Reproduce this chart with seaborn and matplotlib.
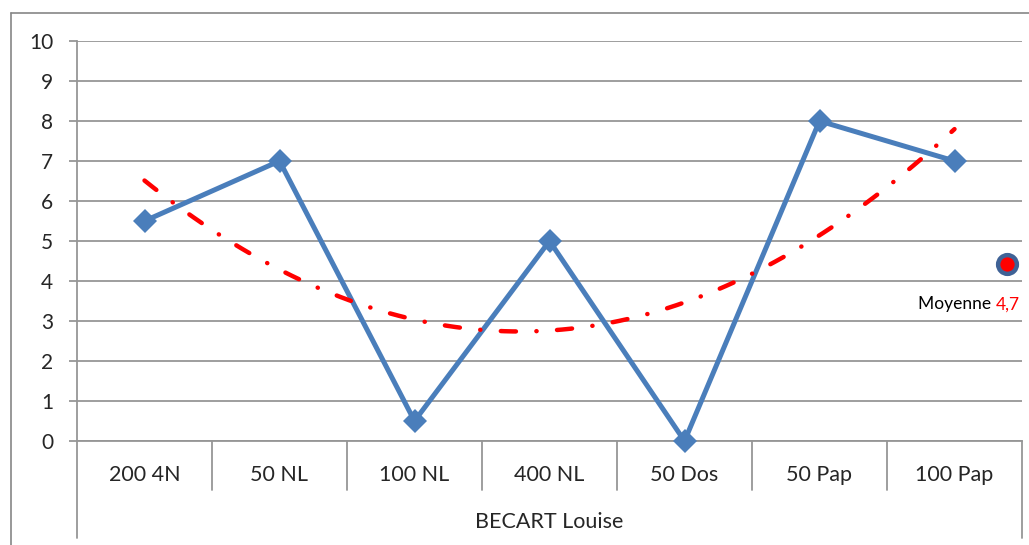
import numpy as np
import pandas as pd
import matplotlib
matplotlib.use("Agg")
import matplotlib.pyplot as plt
from matplotlib.lines import Line2D
import seaborn as sns

# data
epreuves = ["200 4N", "50 NL", "100 NL", "400 NL", "50 Dos", "50 Pap", "100 Pap"]
notes = [5.5, 7, 0.5, 5, 0, 8, 7]
nageur = "BECART Louise"
moyenne_pos = 4.42   # where the "Moyenne" marker sits

df = pd.DataFrame({"pos": np.arange(len(epreuves)), "note": notes})

sns.set_theme(style="white")
plt.rcParams["font.family"] = ["Lato", "DejaVu Sans"]

grid_col = "#969696"
blue = "#4A7EBB"

fig = plt.figure(figsize=(10.29, 5.45), dpi=100)
ax = fig.add_axes([77 / 1029, 1 - 441 / 545, (1022 - 77) / 1029, 400 / 545])

# outer chart frame (only left and top edges visible)
fig.add_artist(Line2D([11 / 1029, 11 / 1029], [0, 1 - 13 / 545], color="#868686", lw=1.2))
fig.add_artist(Line2D([11 / 1029, 1], [1 - 13 / 545, 1 - 13 / 545], color="#868686", lw=1.2))

sns.lineplot(data=df, x="pos", y="note", ax=ax, color=blue, lw=3.6,
             marker="D", markersize=12, markeredgewidth=0, zorder=3, clip_on=False)

# polynomial (order 2) trendline
sns.regplot(data=df, x="pos", y="note", ax=ax, order=2, ci=None, scatter=False,
            line_kws=dict(color="#FF0000", lw=3.2, dashes=(3.4, 4.6, 0.05, 4.6),
                          dash_capstyle="round", zorder=4))

# average marker and label
moy = np.mean(notes)
ax.plot([6.39], [moyenne_pos], marker="o", markersize=13.5, markerfacecolor="#FF0000",
        markeredgecolor="#3F6296", markeredgewidth=3.2, ls="none", zorder=5)
t_val = ax.text(6.485, 3.42, f"{moy:.1f}".replace(".", ","), color="#FF0000",
                fontsize=12.5, ha="right", va="center")
ax.annotate("Moyenne ", xy=(0, 0.5), xycoords=t_val, ha="right", va="center",
            fontsize=12.5, color="black")

ax.set_xlim(-0.5, 6.5)
ax.set_ylim(0, 10)
ax.set_yticks(range(0, 11))
ax.set_xticks(range(len(epreuves)))
ax.set_xticklabels(epreuves)
ax.yaxis.grid(True, color=grid_col, lw=1.3)
ax.xaxis.grid(False)
ax.tick_params(axis="y", length=6, width=1.3, color=grid_col, pad=11, labelsize=15, left=True)
ax.tick_params(axis="x", length=0, pad=17, labelsize=15.5)
for s in ["top", "right"]:
    ax.spines[s].set_visible(False)
for s in ["left", "bottom"]:
    ax.spines[s].set_color(grid_col)
    ax.spines[s].set_linewidth(1.3)
ax.set_xlabel("")
ax.set_ylabel("")

# category boxes below the axis
trans = ax.get_xaxis_transform()
for k in range(len(epreuves) + 1):
    bottom = -0.2425 if k in (0, len(epreuves)) else -0.1225
    ax.plot([k - 0.5, k - 0.5], [0, bottom], color=grid_col, lw=1.3,
            transform=trans, clip_on=False)
ax.text(0.5, -0.203, nageur, transform=ax.transAxes, ha="center", va="center", fontsize=15.5)

fig.savefig("out.png", dpi=100)
